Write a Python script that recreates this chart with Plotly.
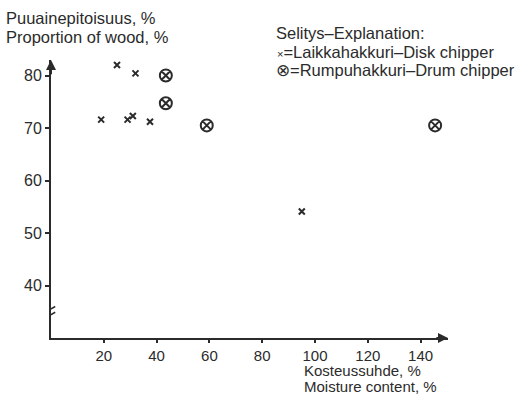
import plotly.graph_objects as go

# --- data ---
disk_moisture = [25, 32, 19, 29, 31, 37.5, 95]
disk_wood = [82, 80.4, 71.6, 71.6, 72.3, 71.2, 54.1]
drum_moisture = [43.5, 43.5, 59, 145.5]
drum_wood = [80, 74.7, 70.5, 70.5]
x_ticks = [20, 40, 60, 80, 100, 120, 140]
y_ticks = [40, 50, 60, 70, 80]

INK = "#2b2b2b"
FONT = "Liberation Sans, Arial, sans-serif"
W, H = 521, 395
ML, MR, MT, MB = 51, 73, 60, 57
PW, PH = W - ML - MR, H - MT - MB
XMAX = PW / 2.64
YMIN = 30
YMAX = YMIN + PH / 5.25


def px(x):
    return (x - ML) / PW


def py(y):
    return (H - MB - y) / PH


fig = go.Figure()
fig.add_trace(go.Scatter(
    x=disk_moisture, y=disk_wood, mode="markers", name="Laikkahakkuri–Disk chipper",
    marker=dict(symbol="x-thin-open", size=6, line=dict(color=INK, width=2), color=INK),
    cliponaxis=False,
))
fig.add_trace(go.Scatter(
    x=drum_moisture, y=drum_wood, mode="markers", name="Rumpuhakkuri–Drum chipper",
    marker=dict(symbol="circle-x-open", size=12, line=dict(color=INK, width=2), color=INK),
    cliponaxis=False,
))


def label(text, x, y, size):
    return dict(text=text, x=px(x), y=py(y), xref="paper", yref="paper",
                xanchor="left", yanchor="middle", showarrow=False, font=dict(size=size))


ann = [
    label("Puuainepitoisuus, %", 4, 18, 16.5),
    label("Proportion of wood, %", 4, 37, 16.5),
    label("Kosteussuhde, %", 302, 370.5, 15),
    label("Moisture content, %", 302, 386.5, 15),
    label("Selitys–Explanation:", 274, 33, 16.5),
    label("<span style='font-size:11px'>×</span>=Laikkahakkuri–Disk chipper", 275, 52, 16.5),
    label("⊗=Rumpuhakkuri–Drum chipper", 274, 70, 16.5),
]
# axis arrowheads
ann.append(dict(x=XMAX, y=YMIN, ax=XMAX - 5, ay=YMIN, xref="x", yref="y", axref="x", ayref="y",
                showarrow=True, arrowhead=2, arrowsize=1, arrowwidth=2, arrowcolor=INK, text=""))
ann.append(dict(x=0, y=YMAX, ax=0, ay=YMAX - 3, xref="x", yref="y", axref="x", ayref="y",
                showarrow=True, arrowhead=2, arrowsize=1, arrowwidth=2, arrowcolor=INK, text=""))

shapes = []
# axis break on y axis
for dy in (-0.55, 0.55):
    shapes.append(dict(type="line", xref="x", yref="y",
                       x0=-1.6, x1=1.6, y0=35 + dy - 0.45, y1=35 + dy + 0.45,
                       line=dict(color=INK, width=1.5)))

fig.update_layout(
    width=W, height=H,
    margin=dict(l=ML, r=MR, t=MT, b=MB),
    paper_bgcolor="white", plot_bgcolor="white",
    showlegend=False,
    font=dict(family=FONT, size=16, color=INK),
    annotations=ann, shapes=shapes,
    xaxis=dict(range=[0, XMAX], tickvals=x_ticks, ticks="outside", ticklen=3, tickwidth=1.5,
               tickcolor=INK, showline=True, linewidth=2, linecolor=INK, showgrid=False,
               zeroline=False, tickfont=dict(size=15)),
    yaxis=dict(range=[YMIN, YMAX], tickvals=y_ticks, ticks="outside", ticklen=4, tickwidth=1.5,
               tickcolor=INK, showline=True, linewidth=2, linecolor=INK, showgrid=False,
               zeroline=False, tickfont=dict(size=16)),
)

fig.write_html("out.html")
